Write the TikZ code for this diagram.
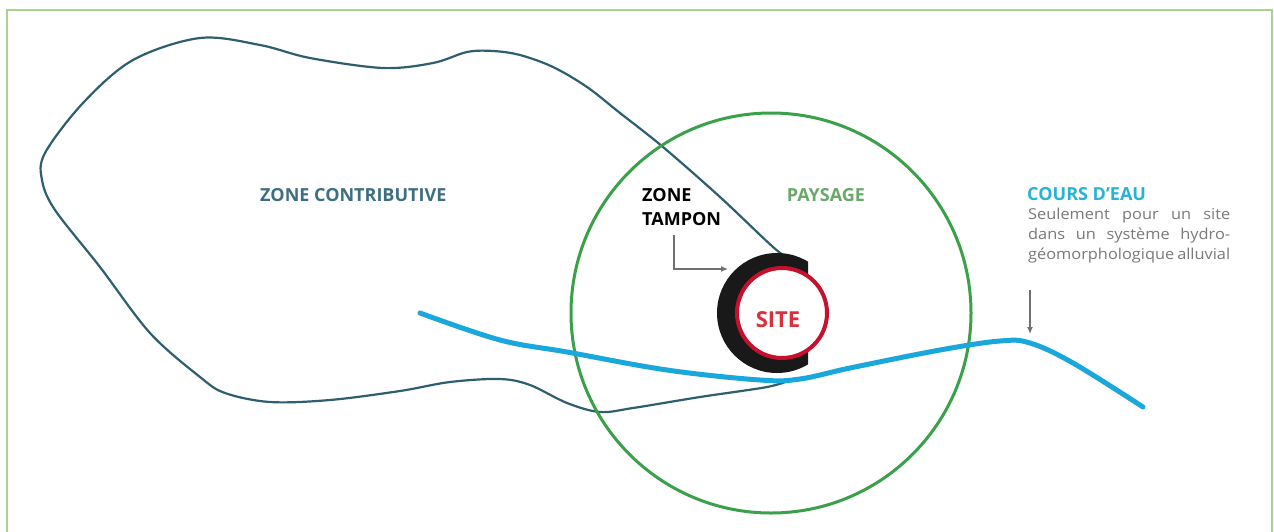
\documentclass[tikz,border=0pt]{standalone}
\usepackage{fontspec}
\setmainfont{Open Sans}
\newfontfamily\descfont[FakeStretch=1.09]{Open Sans}
\usetikzlibrary{arrows.meta}
\definecolor{framec}{HTML}{A8D48C}
\definecolor{contourc}{HTML}{2F5F6E}
\definecolor{greenc}{HTML}{3AA04A}
\definecolor{riverc}{HTML}{1AA7DC}
\definecolor{sitered}{HTML}{C8102E}
\definecolor{sitetext}{HTML}{D8303C}
\definecolor{zcc}{HTML}{3E6E82}
\definecolor{paysc}{HTML}{6AA86A}
\definecolor{coursc}{HTML}{29B2D4}
\definecolor{graytext}{HTML}{7A7A7A}
\definecolor{arrowc}{HTML}{707070}
\begin{document}
\begin{tikzpicture}[x=1pt,y=-1pt,
  lab/.style={inner sep=0pt, font=\fontsize{18}{24}\selectfont\bfseries, anchor=base west},
  desc/.style={inner sep=0pt, font=\descfont\fontsize{15}{20}\selectfont, text=graytext, anchor=base west},
  garrow/.style={draw=arrowc, line width=1.2pt, -{Latex[length=7pt,width=6pt]}},
  contourline/.style={draw=contourc, line width=2.2pt},
  riverline/.style={draw=riverc, line width=5pt, line cap=round},
  paysline/.style={draw=greenc, line width=3pt}]
\useasboundingbox (0,0) rectangle (1274,531);
\fill[white] (0,0) rectangle (1274,531);
% frame
\draw[framec, line width=2.5pt] (7,545) -- (7,10) -- (1272,10) -- (1272,545);
% zone contributive contour
\draw[contourline] plot[smooth, tension=0.55] coordinates {
 (790,380) (767,387) (700,397) (633,408) (600,412) (567,403) (530,385) (500,379)
 (450,382) (400,391) (330,400) (270,402) (225,393) (200,377) (150,333) (100,267)
 (55,210) (42,180) (45,153) (83,103) (133,60) (200,38) (260,45) (310,58) (383,68)
 (433,63) (467,52) (493,51) (520,55) (553,67) (587,87) (620,113) (663,147)
 (720,197) (773,247) (793,262)};
% paysage circle
\node[circle, paysline, minimum size=400pt, inner sep=0pt] (pays) at (771,313) {};
% zone tampon (black crescent)
\begin{scope}
  \clip (700,240) rectangle (808,390);
  \fill[black!90] (777,313) circle[radius=60];
\end{scope}
% site
\node[circle, draw=sitered, line width=4pt, fill=white, minimum size=90pt, inner sep=0pt] (site) at (782,313) {};
\node[inner sep=0pt, anchor=base, text=sitetext, font=\fontsize{22}{26}\selectfont\bfseries] (sitet) at (778,327) {SITE};
% river
\draw[riverline] plot[smooth, tension=0.6] coordinates {
 (420,313) (500,340) (567,352) (667,370) (760,380) (800,379) (850,368)
 (940,350) (1000,341) (1030,343) (1073,363) (1143,407)};
% labels
\node[lab, text=zcc] (zc) at (260,201) {ZONE CONTRIBUTIVE};
\node[lab, text=paysc, anchor=base] (pay) at (826,201) {PAYSAGE};
\node[lab, text=coursc] (ce) at (1027,200) {COURS D’EAU};
\node[lab, text=black] (zt1) at (642,201) {ZONE};
\node[lab, text=black] (zt2) at (642,225) {TAMPON};
\node[desc] (d1) at (1028,219) {\makebox[202pt][s]{Seulement pour un site}};
\node[desc] (d2) at (1028,239) {\makebox[202pt][s]{dans un système hydro-}};
\node[desc] (d3) at (1028,259) {\makebox[202pt][s]{géomorphologique alluvial}};
% arrows
\coordinate (zta) at (674,235);
\coordinate (ztb) at (728,269);
\draw[garrow] (zta) |- (ztb);
\coordinate (cea) at (1030,290);
\coordinate (ceb) at (1030,334);
\draw[garrow] (cea) -- (ceb);
\end{tikzpicture}
\end{document}
